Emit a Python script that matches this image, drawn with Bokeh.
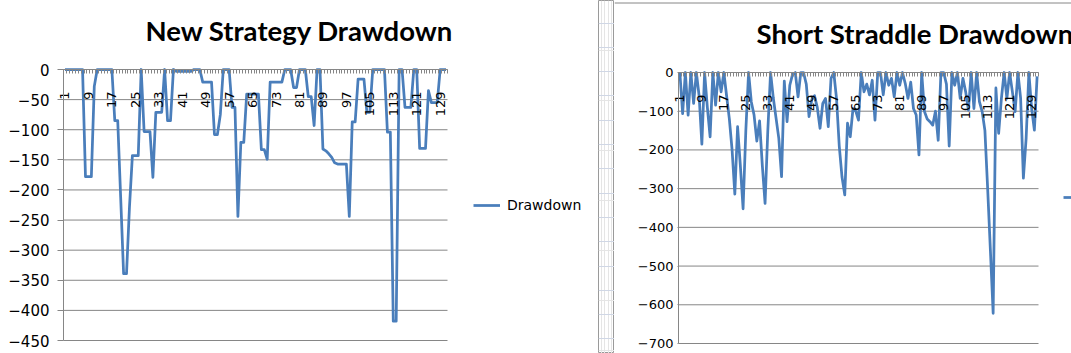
import math
from bokeh.plotting import figure
from bokeh.layouts import row
from bokeh.models import (FixedTicker, Legend, LegendItem, Range1d, Label, Grid,
                          Span)
from bokeh.embed import file_html
from bokeh.resources import INLINE

# ---------------- data ----------------
categories = list(range(1, 132))

new_strategy = [
    0, 0, 0, 0, 0, 0, 0, -178, -178, -178,            # 1-10
    -28, 0, 0, 0, 0, 0, 0, -85, -85, -212,           # 11-20
    -339, -339, -229, -143, -143, -143, 0, -103, -103, -103,  # 21-30
    -179, -71, -71, -71, 0, -85, -85, 0, -3, -3,     # 31-40
    -3, -3, -3, -3, 0, 0, 0, -21, -21, -21,          # 41-50
    -21, -108, -108, -75, 0, 0, 0, -63, -63, -244,   # 51-60
    -121, -121, -41, -41, -41, -41, -41, -133, -133, -149,  # 61-70
    -21, -21, -21, -21, -21, 0, 0, 0, -30, -30,      # 71-80
    0, 0, 0, -45, -45, -93, 0, 0, -132, -135,        # 81-90
    -140, -146, -155, -157, -157, -157, -157, -244, -87, -87,  # 91-100
    -16, -16, -16, -71, -71, 0, 0, 0, 0, 0,          # 101-110
    -104, -104, -418, -418, 0, 0, -63, -63, -63, 0,  # 111-120
    0, -131, -131, -131, -35, -55, -55, -55, 0, 0,   # 121-130
    0,                                               # 131
]

short_straddle = [
    0, -106, 0, -110, 0, -80, 0, -60, -185, 0,       # 1-10
    -90, -166, 0, -84, 0, -50, 0, -60, -120, -200,   # 11-20
    -314, -140, -240, -352, -150, 0, -76, -110, -177, -125,  # 21-30
    -240, -338, -150, 0, -66, -118, -170, -269, -22, -127,   # 31-40
    -33, -5, 0, -63, 0, 0, -30, -114, -70, -60,      # 41-50
    -90, -144, -80, -67, -140, -15, 0, -67, -190, -270,      # 51-60
    -316, -131, -166, -93, -100, -123, 0, -50, -30, -58,     # 61-70
    -20, -123, 0, 0, -58, 0, -33, -15, -63, 0,       # 71-80
    -33, 0, -28, -67, -25, -93, -110, -213, 0, -101,  # 81-90
    -120, -127, -136, -100, -175, 0, 0, -30, -190, 0,        # 91-100
    -33, 0, -67, -15, -50, -97, 0, -93, 0, -75,      # 101-110
    -101, -150, -300, -460, -622, -40, -157, -67, 0, -67,    # 111-120
    0, -50, -101, 0, -67, -273, -170, 0, -93, -149,  # 121-130
    -10,                                             # 131
]

x_tick_labels = list(range(1, 132, 8))
left_y_ticks = list(range(-450, 1, 50))
right_y_ticks = list(range(-700, 1, 100))

LINE_COLOR = "#4a7ebb"
GRID_COLOR = "#868686"
TICK_FONT = "DejaVu Sans"
TITLE_FONT = "Lato"
HEIGHT = 353


def span_range(lo, hi, p_lo, p_hi, total):
    """Range whose [lo, hi] lands on pixels [p_lo, p_hi] of a frame `total` px long."""
    scale = (p_hi - p_lo) / (hi - lo)
    return Range1d(lo - p_lo / scale, hi + (total - p_hi) / scale)


def make_chart(width, area, ymin, yticks, values, title, title_pos, title_align,
               legend_loc, ytick_out, ylabel_standoff, ylabel_size):
    a_left, a_right, a_top, a_bottom = area
    x_lo, x_hi = categories[0] - 0.5, categories[-1] + 0.5
    p = figure(width=width, height=HEIGHT, output_backend="svg",
               toolbar_location=None,
               x_range=span_range(x_lo, x_hi, a_left, a_right, width),
               y_range=span_range(ymin, 0, HEIGHT - a_bottom, HEIGHT - a_top, HEIGHT),
               min_border=0)
    p.outline_line_color = None
    p.background_fill_color = "white"
    p.border_fill_color = "white"
    p.xgrid.visible = False
    p.ygrid.visible = False

    # horizontal gridlines across the plot area only
    p.segment(x0=[x_lo] * len(yticks), y0=yticks, x1=[x_hi] * len(yticks),
              y1=yticks, line_color=GRID_COLOR, line_width=1)

    # category axis sitting on the zero line (top of the plot area)
    xa = p.xaxis[0]
    xa.fixed_location = 0
    xa.bounds = (x_lo, x_hi)
    xa.ticker = FixedTicker(ticks=x_tick_labels,
                            minor_ticks=[c + 0.5 for c in range(0, len(categories) + 1)])
    xa.axis_line_color = GRID_COLOR
    xa.major_tick_line_color = None
    xa.major_tick_out = 0
    xa.major_tick_in = 0
    xa.minor_tick_line_color = GRID_COLOR
    xa.minor_tick_out = 4
    xa.minor_tick_in = 0
    xa.major_label_orientation = math.pi / 2
    xa.major_label_standoff = 18
    xa.major_label_text_font = TICK_FONT
    xa.major_label_text_font_size = "13px"
    xa.major_label_text_color = "black"

    ya = p.yaxis[0]
    ya.fixed_location = x_lo
    ya.bounds = (ymin, 0)
    ya.ticker = FixedTicker(ticks=yticks)
    ya.axis_line_color = GRID_COLOR
    ya.major_tick_line_color = GRID_COLOR
    ya.major_tick_out = ytick_out
    ya.major_tick_in = 0
    ya.minor_tick_line_color = None
    ya.major_label_standoff = ylabel_standoff
    ya.major_label_text_font = TICK_FONT
    ya.major_label_text_font_size = ylabel_size
    ya.major_label_text_color = "black"

    r = p.line(categories, values, line_color=LINE_COLOR, line_width=2.75,
               line_join="round")

    p.add_layout(Label(x=title_pos[0], y=title_pos[1], x_units="screen",
                       y_units="screen", text=title, text_font=TITLE_FONT,
                       text_font_style="bold", text_font_size="27.5px",
                       text_color="black", text_align=title_align,
                       text_baseline="alphabetic"))

    legend = Legend(items=[LegendItem(label="Drawdown", renderers=[r])],
                    location=legend_loc, orientation="vertical",
                    glyph_width=27, glyph_height=18, label_height=18,
                    label_standoff=7, padding=0, margin=0, spacing=0,
                    border_line_color=None, background_fill_alpha=0,
                    label_text_font=TICK_FONT, label_text_font_size="14px",
                    label_text_color="black")
    p.add_layout(legend)
    return p


left = make_chart(598, (63, 447, 69, 340), -450, left_y_ticks, new_strategy,
                  "New Strategy Drawdown", (299, 323), "center", (473, 139),
                  6, 8, "15px")

# strip of worksheet between the two charts
sheet = figure(width=16, height=HEIGHT, output_backend="svg",
               toolbar_location=None, x_range=Range1d(0, 1),
               y_range=Range1d(HEIGHT, 0), x_axis_location=None,
               y_axis_location=None, min_border=0)
sheet.outline_line_color = "#9a9a9a"
sheet.background_fill_color = "white"
sheet.border_fill_color = "white"
sheet.add_layout(Grid(dimension=1, ticker=FixedTicker(
    ticks=[22.5 + 24.3 * i for i in range(14)]),
    grid_line_color="#d0d7e5"))

right = make_chart(457, (64, 424, 72, 343), -700, right_y_ticks, short_straddle,
                   "Short Straddle Drawdown", (142, 320), "left", (449, 147),
                   1, 4, "13px")
# top border of the right chart box
right.add_layout(Span(location=HEIGHT - 2.5, location_units="screen",
                      dimension="width", line_color=GRID_COLOR, line_width=1))

layout = row(left, sheet, right, spacing=0)
open("out.html", "w").write(file_html(layout, INLINE))
